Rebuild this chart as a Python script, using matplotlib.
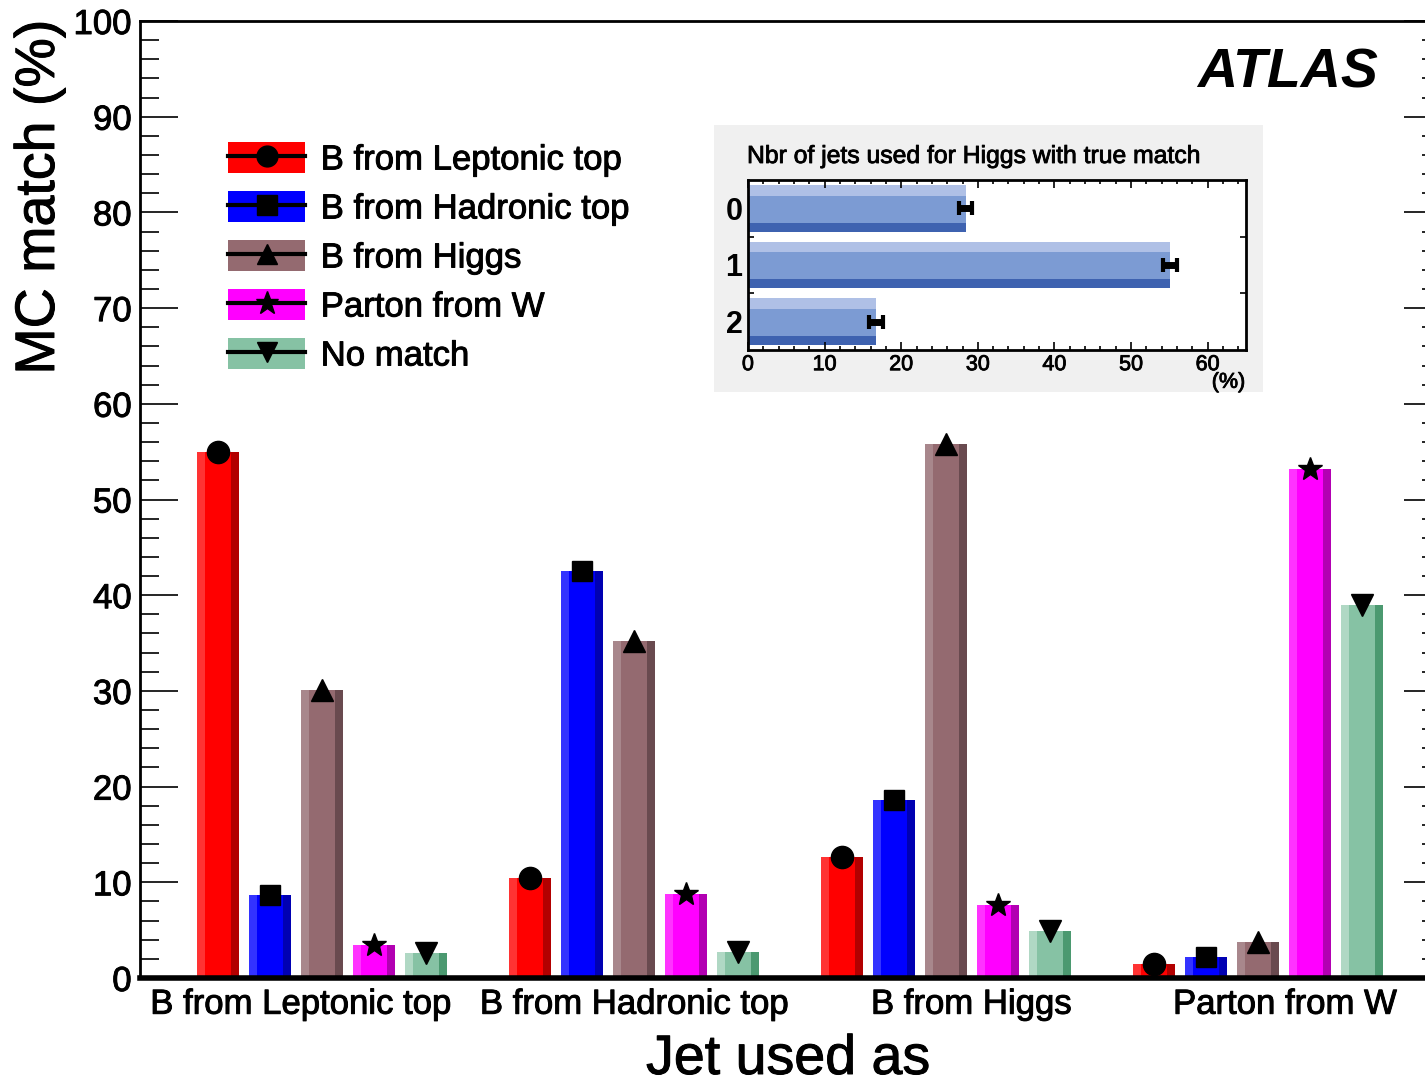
import numpy as np
import matplotlib
matplotlib.use("Agg")
import matplotlib.pyplot as plt
import matplotlib.patheffects as pe
from matplotlib.patches import Patch, Rectangle
from matplotlib.lines import Line2D
from matplotlib.legend_handler import HandlerTuple
from matplotlib.ticker import MultipleLocator, FixedLocator

plt.rcParams["font.family"] = ["Liberation Sans", "DejaVu Sans"]

# ---- data -------------------------------------------------------------
groups = ["B from Leptonic top", "B from Hadronic top", "B from Higgs", "Parton from W"]
series_names = ["B from Leptonic top", "B from Hadronic top", "B from Higgs",
                "Parton from W", "No match"]
lep_top = [55.0, 10.5, 12.6, 1.5]
had_top = [8.7, 42.5, 18.6, 2.2]
from_higgs = [30.1, 35.2, 55.8, 3.8]
from_w = [3.5, 8.8, 7.6, 53.2]
no_match = [2.6, 2.7, 4.9, 39.0]
series_values = [lep_top, had_top, from_higgs, from_w, no_match]

n_jets = [0, 1, 2]
n_jets_frac = [28.4, 55.1, 16.7]
n_jets_err = [0.9, 0.9, 0.9]

# ---- styles -----------------------------------------------------------
shades = [
    ("#ff3333", "#ff0000", "#b20000"),
    ("#3333ff", "#0000ff", "#0000b2"),
    ("#a8878c", "#946a70", "#694a4f"),
    ("#ff33ff", "#ff00ff", "#b200b2"),
    ("#b0d8c4", "#86c2a4", "#4b9970"),
]
markers = [("o", 16), ("s", 15), ("^", 16), ("*", 18), ("v", 16)]
offsets = [0.25, 0.4167, 0.5833, 0.75, 0.9167]
bar_w = 0.135
label_pos = [0.516, 1.585, 2.665, 3.67]

# slightly heavier glyph strokes
heavy = [pe.withStroke(linewidth=0.7, foreground="black")]
thin_heavy = [pe.withStroke(linewidth=0.6, foreground="black")]

W, H = 1425, 1086
fig = plt.figure(figsize=(W / 100, H / 100), dpi=100)

def fx(px):
    return px / W

def fy(py):
    return 1 - py / H

ax = fig.add_axes([fx(140), fy(978), fx(1441) - fx(140), fy(21) - fy(978)])
ax.set_xlim(0, (1441 - 140) / 312)
ax.set_ylim(0, 100)

base = np.arange(len(groups))
for vals, (lt, mid, dk), off, (mk, ms) in zip(series_values, shades, offsets, markers):
    x = base + off
    ax.bar(x - 0.4 * bar_w, vals, width=0.2 * bar_w, color=lt, linewidth=0, zorder=2)
    ax.bar(x, vals, width=0.6 * bar_w, color=mid, linewidth=0, zorder=2)
    ax.bar(x + 0.4 * bar_w, vals, width=0.2 * bar_w, color=dk, linewidth=0, zorder=2)
    ax.plot(x, vals, ls="none", marker=mk, ms=ms, color="black", zorder=3)

ax.yaxis.set_major_locator(MultipleLocator(10))
ax.yaxis.set_minor_locator(MultipleLocator(2))
ax.tick_params(axis="y", which="both", direction="in", left=True, right=True,
               labelsize=25, pad=6)
ax.tick_params(axis="y", which="major", length=27, width=1.2)
ax.tick_params(axis="y", which="minor", length=13.5, width=1.2)
ax.set_xticks(label_pos)
ax.set_xticklabels(groups)
ax.tick_params(axis="x", length=0, labelsize=25, pad=7)
for lab in ax.get_xticklabels() + ax.get_yticklabels():
    lab.set_path_effects(heavy)
for side, lw in (("left", 2), ("top", 2), ("bottom", 4), ("right", 2)):
    ax.spines[side].set_linewidth(lw)

fig.text(fx(40), fy(20), "MC match (%)", rotation=90, ha="center", va="top",
         fontsize=40, path_effects=heavy)
fig.text(fx(788), fy(1074), "Jet used as", ha="center", va="baseline", fontsize=40,
         path_effects=heavy)
fig.text(fx(1378), fy(88), "ATLAS", ha="right", va="baseline", fontsize=40,
         fontweight="bold", fontstyle="italic")

# legend: filled box with a line and marker drawn over it
handles = []
for (lt, mid, dk), (mk, ms) in zip(shades, markers):
    handles.append((Patch(facecolor=mid, edgecolor="none"),
                    Line2D([], [], color="black", lw=3, marker=mk, ms=ms - 1,
                           markerfacecolor="black")))
leg = ax.legend(handles, series_names, loc="upper left",
                bbox_to_anchor=(fx(228), fy(142)), bbox_transform=fig.transFigure,
                frameon=False, fontsize=25, handlelength=2.22, handleheight=1.0,
                handletextpad=0.45, labelspacing=0.42, borderpad=0, borderaxespad=0,
                numpoints=1, handler_map={tuple: HandlerTuple(ndivide=1, pad=0)})
for t in leg.get_texts():
    t.set_path_effects(heavy)

# inset panel
fig.add_artist(Rectangle((fx(714), fy(392)), fx(1263) - fx(714), fy(125) - fy(392),
                         transform=fig.transFigure, facecolor="#f0f0f0",
                         edgecolor="none", zorder=1))
fig.text(fx(747), fy(163), "Nbr of jets used for Higgs with true match",
         ha="left", va="baseline", fontsize=17.8, zorder=3, path_effects=thin_heavy)

ins = fig.add_axes([fx(748), fy(350), fx(1246) - fx(748), fy(180) - fy(350)], zorder=2)
ins.set_xlim(0, 65)
ins.set_ylim(2.5, -0.5)
bh = 0.82
y = np.array(n_jets, dtype=float)
ins.barh(y - bh / 2 + 0.115 * bh, n_jets_frac, height=0.23 * bh, color="#afc0e6", linewidth=0)
ins.barh(y - bh / 2 + 0.23 * bh + 0.29 * bh, n_jets_frac, height=0.58 * bh, color="#7c9bd3", linewidth=0)
ins.barh(y + bh / 2 - 0.095 * bh, n_jets_frac, height=0.19 * bh, color="#3e62b0", linewidth=0)
ins.errorbar(n_jets_frac, y, xerr=n_jets_err, fmt="none", ecolor="black",
             elinewidth=5, capsize=5, capthick=3, zorder=3)
ins.xaxis.set_major_locator(MultipleLocator(10))
ins.xaxis.set_minor_locator(MultipleLocator(2))
ins.tick_params(axis="x", which="both", direction="in", top=True, bottom=True,
                labelsize=15.5, pad=3)
ins.tick_params(axis="x", which="major", length=6, width=1.2)
ins.tick_params(axis="x", which="minor", length=3, width=1.2)
ins.set_yticks(n_jets)
ins.set_yticklabels([str(v) for v in n_jets], fontweight="bold")
ins.yaxis.set_minor_locator(FixedLocator([0.5, 1.5]))
ins.tick_params(axis="y", which="major", length=0, labelsize=22, pad=4)
ins.tick_params(axis="y", which="minor", direction="in", left=True, right=True,
                length=4, width=1.2)
for lab in ins.get_xticklabels():
    lab.set_path_effects(thin_heavy)
for s in ins.spines.values():
    s.set_linewidth(2)
ins.text(0.998, -0.19, "(%)", transform=ins.transAxes, ha="right", va="center",
         fontsize=15.5, path_effects=thin_heavy)

fig.savefig("out.png", dpi=100)
